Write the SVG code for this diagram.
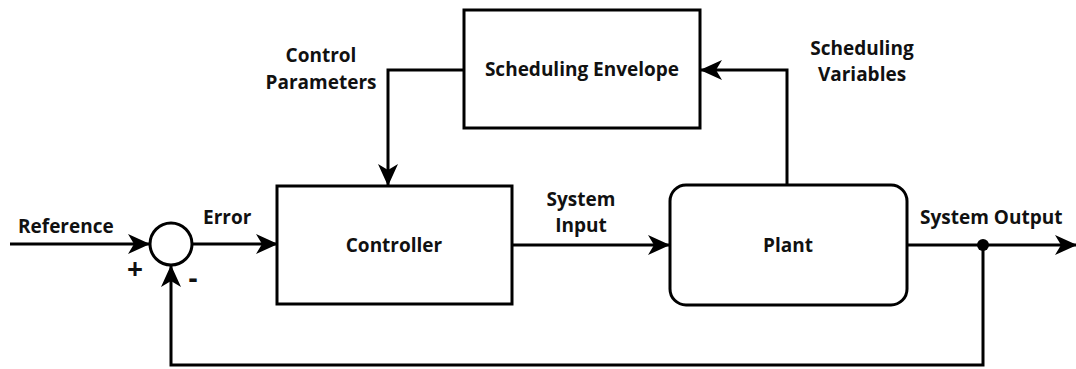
<svg xmlns="http://www.w3.org/2000/svg" width="1076" height="369" viewBox="0 0 1076 369">
  <style>
    .box { fill: #fff; stroke: #000; stroke-width: 3; }
    .wire { fill: none; stroke: #000; stroke-width: 3; }
    .lbl { font-family: "Open Sans", "Liberation Sans", sans-serif; font-weight: bold; font-size: 19px; fill: #111; }
    .mid { text-anchor: middle; }
    .sign { font-size: 28px; }
  </style>
  <defs>
    <marker id="arrow" viewBox="0 0 22 20" refX="21" refY="10" markerWidth="22" markerHeight="20" markerUnits="userSpaceOnUse" orient="auto">
      <path d="M0,0 L22,10 L0,20 L6,10 Z" fill="#000"/>
    </marker>
  </defs>
  <rect width="1076" height="369" fill="#fff"/>

  <g id="connectors">
    <line class="wire" x1="10" y1="244" x2="149" y2="244" marker-end="url(#arrow)"/>
    <line class="wire" x1="192" y1="244" x2="277" y2="244" marker-end="url(#arrow)"/>
    <line class="wire" x1="512" y1="245" x2="669" y2="245" marker-end="url(#arrow)"/>
    <line class="wire" x1="907" y1="245" x2="1076" y2="245" marker-end="url(#arrow)"/>
    <polyline class="wire" points="983,245 983,365 171,365 171,266" marker-end="url(#arrow)"/>
    <polyline class="wire" points="464,70 388,70 388,185" marker-end="url(#arrow)"/>
    <polyline class="wire" points="787,185 787,70 701,70" marker-end="url(#arrow)"/>
    <circle cx="983" cy="245" r="6" fill="#000"/>
  </g>

  <g id="sum">
    <circle cx="171" cy="244" r="21" class="box"/>
    <text class="lbl mid sign" x="135" y="279">+</text>
    <text class="lbl mid sign" x="193" y="288">-</text>
  </g>

  <g id="controller">
    <rect class="box" x="277" y="186" width="235" height="118"/>
    <text class="lbl mid" x="394" y="252">Controller</text>
  </g>

  <g id="envelope">
    <rect class="box" x="464" y="10" width="236" height="118"/>
    <text class="lbl mid" x="582" y="76">Scheduling Envelope</text>
  </g>

  <g id="plant">
    <rect class="box" x="670" y="185" width="237" height="120" rx="16" ry="16"/>
    <text class="lbl mid" x="788" y="252">Plant</text>
  </g>

  <g id="labels">
    <text class="lbl" x="18" y="233">Reference</text>
    <text class="lbl" x="203" y="224">Error</text>
    <text class="lbl mid" x="581" y="206">System</text>
    <text class="lbl mid" x="581" y="232">Input</text>
    <text class="lbl" x="920" y="224">System Output</text>
    <text class="lbl mid" x="321" y="62">Control</text>
    <text class="lbl mid" x="321" y="89">Parameters</text>
    <text class="lbl mid" x="862" y="55">Scheduling</text>
    <text class="lbl mid" x="862" y="81">Variables</text>
  </g>
</svg>
